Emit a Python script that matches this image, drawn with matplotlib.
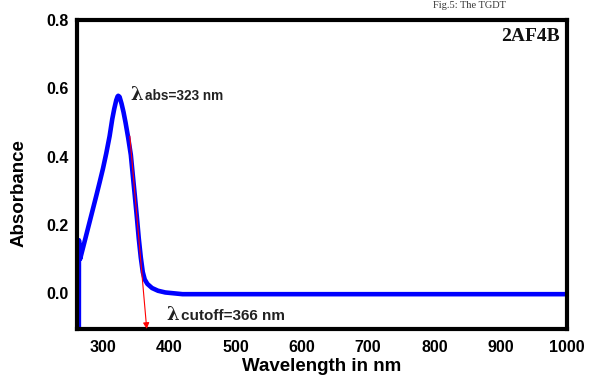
import matplotlib
matplotlib.use("Agg")
import matplotlib.pyplot as plt

# UV-Vis absorption spectrum of 2AF4B
wavelength = [263.6, 263.7, 264.5, 265.5, 270, 275, 280, 285, 290, 295, 300,
              305, 310, 314, 317, 320, 322, 323, 325, 328, 331, 334, 338,
              342, 345, 348, 351, 354, 357, 360, 363, 367, 374, 383, 394,
              420, 500, 600, 700, 800, 900, 1000]
absorbance = [-0.105, 0.155, 0.14, 0.10, 0.134, 0.172, 0.21, 0.248, 0.286,
              0.325, 0.365, 0.41, 0.46, 0.51, 0.54, 0.565, 0.576, 0.578,
              0.575, 0.555, 0.53, 0.50, 0.455, 0.405, 0.345, 0.286, 0.225,
              0.16, 0.105, 0.062, 0.04, 0.027, 0.015, 0.007, 0.002, -0.003,
              -0.003, -0.003, -0.003, -0.003, -0.003, -0.003]

lambda_abs = 323
abs_peak = 0.578
lambda_cutoff = 366
tangent_start = (340.5, 0.46)

x_ticks = [300, 400, 500, 600, 700, 800, 900, 1000]
y_ticks = [0.0, 0.2, 0.4, 0.6, 0.8]

fig = plt.figure(figsize=(5.90, 3.76), dpi=100)
ax = fig.add_axes([77 / 590, 1 - 329 / 376, 490 / 590, 309 / 376])

ax.plot(wavelength, absorbance, color="#0000ff", lw=3.3, solid_capstyle="butt",
        solid_joinstyle="round", zorder=2)

# tangent to the falling edge giving the cut-off wavelength
ax.annotate("", xy=(lambda_cutoff, -0.105), xytext=tangent_start,
            arrowprops=dict(arrowstyle="-|>", color="red", lw=0.8,
                            mutation_scale=9, shrinkA=0, shrinkB=0),
            zorder=3, annotation_clip=False)

ax.text(342, 0.565, "λ", fontsize=13, fontweight="bold",
        family=["DejaVu Serif"], color="#222222", va="baseline", ha="left")
ax.text(364, 0.565, "abs=323 nm", fontsize=9.8, fontweight="bold",
        family=["Liberation Sans"], color="#222222", va="baseline", ha="left")

ax.text(396, -0.078, "λ", fontsize=13, fontweight="bold",
        family=["DejaVu Serif"], color="#222222", va="baseline", ha="left")
ax.text(418, -0.078, "cutoff=366 nm", fontsize=11, fontweight="bold",
        family=["Liberation Sans"], color="#222222", va="baseline", ha="left")

ax.text(0.985, 0.945, "2AF4B", transform=ax.transAxes, fontsize=14,
        fontweight="bold", family=["Liberation Serif"], color="#111111",
        ha="right", va="center")

ax.set_xlim(260.8, 1000)
ax.set_ylim(-0.105, 0.8)
ax.set_xticks(x_ticks)
ax.set_yticks(y_ticks)
ax.set_xticklabels([str(v) for v in x_ticks])
ax.set_yticklabels([f"{v:.1f}" for v in y_ticks])
ax.tick_params(length=0, labelsize=11.5, pad=6)
for lab in ax.get_xticklabels() + ax.get_yticklabels():
    lab.set_fontweight("bold")
    lab.set_family("Liberation Sans")
ax.tick_params(axis="x", pad=8)

for sp in ax.spines.values():
    sp.set_linewidth(3.0)
    sp.set_color("black")

ax.set_xlabel("Wavelength in nm", fontsize=13.5, fontweight="bold",
              family="Liberation Sans", labelpad=2)
ax.set_ylabel("Absorbance", fontsize=13.5, fontweight="bold",
              family="Liberation Sans")
ax.yaxis.set_label_coords(-0.10, 0.44)

fig.text(433 / 590, 1 - 8 / 376, "Fig.5: The TGDT", fontsize=7.5,
         family=["Liberation Serif"], color="#333333", ha="left", va="baseline")

fig.savefig("out.png", dpi=100)
